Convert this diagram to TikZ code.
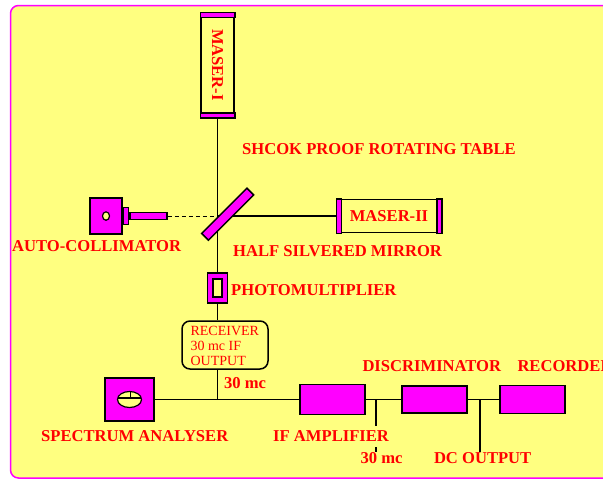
\documentclass[tikz,border=0pt]{standalone}
\usepackage{fontspec}
\setmainfont{Liberation Serif}
\definecolor{panel}{RGB}{255,255,128}
\definecolor{mag}{RGB}{255,0,255}
\definecolor{txtred}{RGB}{255,0,0}
\tikzset{
    lbl/.style={text=txtred, font=\bfseries\fontsize{16.6}{18}\selectfont, inner sep=0pt, anchor=base west},
    rtxt/.style={text=txtred, font=\fontsize{14}{16}\selectfont, inner sep=0pt, anchor=base west},
    unit/.style={draw, fill=mag, line width=1.5pt, inner sep=0pt},
    wire/.style={line width=1.2pt}
}
\begin{document}
\begin{tikzpicture}[x=1pt, y=-1pt]
    % Frame
    \useasboundingbox (0,0) rectangle (603,480);
    \draw[mag, line width=1.5pt, fill=panel, rounded corners=8pt] (10.5,5.5) rectangle (650,478);
    % Masers
    \node[unit, fill=panel, minimum width=33, minimum height=104] (maserI) at (217.5,65) {};
    \draw[unit] (maserI.north west) rectangle ([yshift=-5pt]maserI.north east);
    \draw[unit] ([yshift=5pt]maserI.south west) rectangle (maserI.south east);
    \node[lbl, rotate=-90, anchor=center] (maserItxt) at (maserI) {MASER-I};
    \node[unit, fill=panel, minimum width=104, minimum height=33] (maserII) at (389,216) {};
    \draw[unit] (maserII.north west) rectangle ([xshift=5pt]maserII.south west);
    \draw[unit] ([xshift=-5pt]maserII.north east) rectangle (maserII.south east);
    \node[lbl, anchor=center] (maserIItxt) at (maserII) {MASER-II};
    % Auto-collimator
    \node[unit, minimum width=32, minimum height=36] (acol) at (106,216) {};
    \node[unit, minimum width=5, minimum height=17, anchor=west] (acolneck) at (acol.east) {};
    \node[unit, minimum width=37, minimum height=7, anchor=west] (acoltube) at (acolneck.east) {};
    \draw[line width=1.2pt, fill=panel] (acol.center) ellipse [x radius=3.5, y radius=4.2];
    % Photomultiplier and receiver
    \node[unit, minimum width=20, minimum height=30] (photo) at (217.5,288) {};
    \node[draw, fill=panel, line width=1.2pt, minimum width=9, minimum height=18, inner sep=0pt] (photoin) at (photo) {};
    \node[draw, fill=panel, line width=1.5pt, rounded corners=8pt, minimum width=86, minimum height=48] (recv) at (225,345) {};
    \node[rtxt] (r1) at (190.4,335.7) {RECEIVER};
    \node[rtxt] (r2) at (190.4,350) {30 mc IF};
    \node[rtxt] (r3) at (190.4,365) {OUTPUT};
    % Spectrum analyser
    \node[unit, minimum width=49, minimum height=43] (spec) at (129.5,399.5) {};
    \draw[line width=1.2pt, fill=panel] (spec.center) ellipse [x radius=12, y radius=8];
    \draw[line width=1.2pt] (spec.center) ++(-11.8,-1.5) -- ++(23.6,0);
    \draw[line width=1.2pt] (spec.center) ++(1,-1.5) -- ++(0,-6.5);
    % Signal chain
    \foreach \n/\x/\h in {ifamp/332.5/30, disc/434.5/27, rec/532.5/28}
    {
        \node[unit, minimum width=65, minimum height=\h] (\n) at (\x,399.5) {};
    }
    % Labels
    \node[lbl] (table) at (242,154.3) {SHCOK PROOF ROTATING TABLE};
    \node[lbl] (acollbl) at (12,251.5) {AUTO-COLLIMATOR};
    \node[lbl] (mirlbl) at (233,256) {HALF SILVERED MIRROR};
    \node[lbl] (photolbl) at (231,295.7) {PHOTOMULTIPLIER};
    \node[lbl] (up30) at (223.8,388.3) {30 mc};
    \node[lbl] (speclbl) at (41,441) {SPECTRUM ANALYSER};
    \node[lbl] (lo30) at (360.4,463.3) {30 mc};
    \node[lbl] (dcout) at (433.8,463.3) {DC OUTPUT};
    \node[lbl] (disclbl) at (362.3,371) {DISCRIMINATOR};
    \node[lbl] (reclbl) at (517.3,371) {RECORDER};
    % Wires
    \coordinate (mirc) at (maserI.south |- acoltube.east);
    \coordinate (j2) at (376,399.5);
    \coordinate (j3) at (480,399.5);
    \draw[wire] (maserI.south) -- (photo.north);
    \draw[line width=1pt, dash pattern=on 4pt off 3pt] (acoltube.east) -- (mirc);
    \draw[wire] (mirc) -- (maserII.west);
    \draw[wire] (photo.south) -- (photo.south |- recv.north);
    \draw[wire] (photo.south |- recv.south) -- (photo.south |- spec.east);
    \draw[wire] (spec.east) -- (ifamp.west);
    \draw[wire] (ifamp.east) -- (disc.west);
    \draw[wire] (disc.east) -- (rec.west);
    \draw[wire] (j2) -- (j2 |- lo30.north);
    \draw[wire] (j3) -- (j3 |- dcout.north);
    % Mirror on top of the beams
    \node[unit, minimum width=64, minimum height=9.5, rotate=45] (mirror) at (227.7,214.2) {};
    \node[lbl, fill=panel, inner xsep=0pt, inner ysep=5pt] (iflbl) at (273,441.7) {IF AMPLIFIER};
\end{tikzpicture}
\end{document}
